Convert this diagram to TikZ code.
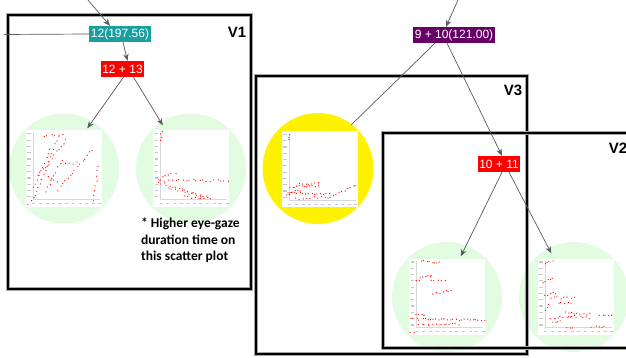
\documentclass[tikz,border=0pt]{standalone}
\usepackage{fontspec}
\setmainfont{Liberation Sans}
\newfontfamily\calib{Carlito}
\usetikzlibrary{calc,arrows.meta}

\definecolor{tealbox}{HTML}{1A9E9E}
\definecolor{purpbox}{HTML}{660066}
\definecolor{lgreen}{HTML}{E2FCE2}
\definecolor{connc}{HTML}{5A5A5A}
\definecolor{axisc}{HTML}{D8D8D8}
\definecolor{tickc}{HTML}{C8C8C8}

\tikzset{
  lab/.style={text=white, font=\fontsize{12}{12}\selectfont, inner xsep=1.5, inner ysep=0, minimum height=16},
  redbox/.style={lab, fill=red},
  tealnode/.style={lab, fill=tealbox},
  purpnode/.style={lab, fill=purpbox},
  ring/.style={circle, fill=lgreen, minimum size=110, inner sep=0},
  yring/.style={circle, fill=yellow, minimum size=111, inner sep=0},
  plotbox/.style={rectangle, fill=white, minimum width=76, minimum height=76, inner sep=0},
  conn/.style={draw=connc, line width=0.7},
  arr/.style={conn, -{Stealth[length=7,width=5.5]}},
  vshadow/.style={draw=gray!70, line width=3.6},
  vbox/.style={draw=black, line width=2.4},
  vlab/.style={font=\bfseries\fontsize{15}{15}\selectfont, inner sep=0},
  note/.style={font=\calib\bfseries\fontsize{13.5}{16.5}\selectfont, align=left, inner sep=0, anchor=north west},
  dotc/.style={fill=red}
}

\newcommand\plotaxes[1]{%
  \draw[axisc, line width=0.8] ($(#1.north west)+(8,3)$) -- ($(#1.south west)+(8,-7)$) -- ($(#1.south east)+(-2,-7)$);
  \foreach \k in {0,...,10} {\fill[tickc] ($(#1.north west)+(2,3+\k*6.3)$) rectangle ++(3.5,1.2);}
  \foreach \k in {0,...,10} {\fill[tickc] ($(#1.south west)+(7+\k*6.6,-3.5)$) rectangle ++(3,1.2);}
}
\newcommand\drun[5]{%
  \foreach \i in {0,...,#5} {\fill[dotc] ($(#1,#2)!\i/#5!(#3,#4)+(rand*1.1,rand*1.1)$) circle (0.65);}
}

\begin{document}
\begin{tikzpicture}[x=1pt,y=-1pt]
\pgfmathsetseed{11}
\clip (0,0) rectangle (626,358);
\fill[white] (0,0) rectangle (626,358);

% ---------- circles and plots ----------
\node[ring] (c1) at (64,168.5) {};
\node[ring] (c2) at (191,168.5) {};
\node[yring] (c3) at (318,168.5) {};
\node[ring] (c4) at (447,297) {};
\node[ring] (c5) at (574,297) {};

\node[plotbox] (p1) at (63.5,168.5) {};
\node[plotbox] (p2) at (191,168.5) {};
\node[plotbox] (p3) at (319.5,169) {};
\node[plotbox] (p4) at (447,296.5) {};
\node[plotbox] (p5) at (575.5,296.5) {};
\plotaxes{p1}\plotaxes{p2}\plotaxes{p3}\plotaxes{p4}\plotaxes{p5}

% plot 1 dots
\drun{35}{196}{58}{136}{14}
\drun{33}{188}{50}{150}{9}
\drun{38}{176}{66}{140}{12}
\drun{45}{192}{62}{160}{8}
\drun{44}{136}{62}{134}{5}
\drun{58}{190}{92}{150}{14}
\drun{66}{164}{76}{163}{3}
\drun{93}{200}{99}{166}{7}
\drun{48}{176}{58}{182}{3}
\drun{29}{204}{34}{198}{2}
% plot 2 dots
\drun{160}{140}{162}{132}{3}
\drun{158}{180}{228}{181}{20}
\drun{158}{182}{200}{196}{14}
\drun{168}{188}{210}{198}{12}
\drun{162}{176}{175}{174}{4}
\drun{185}{197}{208}{198}{7}
% plot 3 dots (yellow)
\drun{288}{140}{290}{134}{2}
\drun{286}{195}{300}{190}{6}
\drun{290}{187}{320}{186}{12}
\drun{288}{193}{330}{194}{14}
\drun{296}{199}{328}{197}{9}
\drun{330}{198}{356}{185}{9}
\drun{300}{184}{318}{183}{6}
% plot 4 dots
\drun{422}{261}{440}{263}{7}
\drun{416}{280}{432}{275}{7}
\drun{431}{281}{446}{280}{4}
\drun{433}{294}{452}{290}{6}
\drun{416}{315}{424}{315}{3}
\drun{411}{319}{484}{320}{26}
\drun{419}{325}{458}{324}{14}
\drun{411}{332}{415}{332}{1}
% plot 5 dots
\drun{545}{263}{552}{261}{3}
\drun{543}{282}{553}{279}{4}
\drun{545}{295}{556}{293}{4}
\drun{551}{298}{575}{298}{7}
\drun{558}{303}{571}{303}{4}
\drun{546}{310}{548}{305}{2}
\drun{565}{313}{590}{314}{8}
\drun{570}{316}{590}{318}{6}
\drun{551}{318}{575}{316}{8}
\drun{553}{322}{560}{321}{3}
\drun{600}{316}{612}{316}{4}
\drun{567}{327}{572}{327}{2}
\drun{592}{327}{605}{327}{4}

% ---------- region boxes ----------
\draw[vshadow] (8,15) rectangle (251,289);
\draw[vbox] (8,15) rectangle (251,289);
\draw[vshadow] (256,76) rectangle (527,354);
\draw[vbox] (256,76) rectangle (527,354);
\draw[vshadow] (383,133) rectangle (650,348);
\draw[vbox] (383,133) rectangle (650,348);

\node[vlab] (v1) at (237,32) {V1};
\node[vlab] (v3) at (513,90) {V3};
\node[vlab] (v2) at (618,148) {V2};

% ---------- nodes ----------
\node[tealnode] (n12) at (120,34) {12(197.56)};
\node[redbox] (n1213) at (122.5,69) {12 + 13};
\node[purpnode] (n910) at (454,35) {9 + 10(121.00)};
\node[redbox] (n1011) at (499,164) {10 + 11};

\coordinate (in1) at (88,0);
\coordinate (in2) at (458,0);
\coordinate (side) at (4,34.5);

% ---------- connectors ----------
\draw[arr] (in1) -- ([xshift=-10pt]n12.north);
\draw[conn] (side) -- (n12.west);
\draw[arr] ([xshift=3pt]n12.south) -- ([xshift=5pt]n1213.north);
\draw[arr] ([xshift=1pt]n1213.south) -- ($(p1.north west)+(62,-2)$);
\draw[arr] ([xshift=11pt]n1213.south) -- ($(p2.north west)+(10,-5)$);

\draw[arr] (in2) -- ([xshift=-8pt]n910.north);
\draw[conn] ([xshift=-19pt]n910.south) -- ($(p3.north west)+(70,-6)$);
\draw[arr] ([xshift=-7pt]n910.south) -- ([xshift=3pt]n1011.north);
\draw[arr] ([xshift=3pt]n1011.south) -- ($(p4.north west)+(52,-2)$);
\draw[arr] ([xshift=10pt]n1011.south) -- ($(p5.north west)+(14,-5)$);

% ---------- note ----------
\node[note] (note) at (141,218) {* Higher eye-gaze\\duration time on\\this scatter plot};
\end{tikzpicture}
\end{document}
